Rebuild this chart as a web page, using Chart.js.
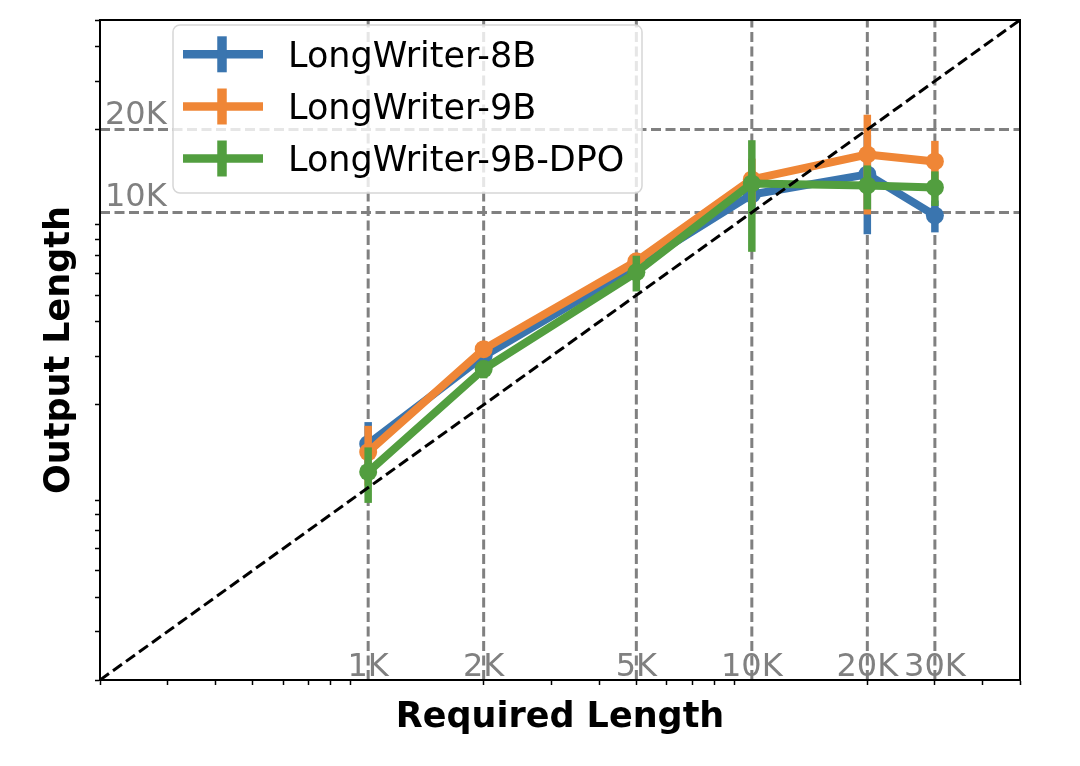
<!DOCTYPE html>
<html>
<head>
<meta charset="utf-8">
<script src="https://cdn.jsdelivr.net/npm/chart.js@4.4.0/dist/chart.umd.min.js"></script>
<style>
  html, body { margin: 0; padding: 0; background: #ffffff; }
</style>
</head>
<body>
<canvas id="myChart" width="1080" height="766"></canvas>
<script>
// required length (x) for every series
const required_len = [1000, 2000, 5000, 10000, 20000, 30000];

// mean output length and error (std)
const out_8b  = [1440, 3005, 6370, 11620, 13740, 9750];
const err_8b  = [290, 200, 400, 1500, 5420, 1290];
const out_9b  = [1347, 3185, 6640, 13180, 16230, 15310];
const err_9b  = [330, 190, 400, 2500, 6400, 2880];
const out_dpo = [1140, 2695, 6060, 12740, 12530, 12320];
const err_dpo = [260, 200, 900, 5550, 2280, 1770];

const series_names  = ['LongWriter-8B', 'LongWriter-9B', 'LongWriter-9B-DPO'];
const series_colors = ['#3a75af', '#ef8636', '#529e3f'];

// labelled dashed grid lines
const x_tick_vals   = [1000, 2000, 5000, 10000, 20000, 30000];
const x_tick_labels = ['1K', '2K', '5K', '10K', '20K', '30K'];
const y_tick_vals   = [10000, 20000];
const y_tick_labels = ['10K', '20K'];

const axis_min = 200;
const axis_max = 50000;
const diag = [axis_min, axis_max];

const FONT = "'DejaVu Sans', sans-serif";

// small tick marks: 2..9 x 10^n only (no decade ticks in the original)
function minor_ticks() {
    let out = [];
    for (let p = 100; p <= 10000; p *= 10) {
        for (let m = 2; m <= 9; m++) {
            let v = m * p;
            if (v >= axis_min && v <= axis_max) out.push({value: v});
        }
    }
    return out;
}

function to_points(xs, ys) {
    return xs.map((x, i) => ({x: x, y: ys[i]}));
}

const err_lists = [err_8b, err_9b, err_dpo];
const out_lists = [out_8b, out_9b, out_dpo];

let datasets = [{
    label: 'diag',
    data: to_points(diag, diag),
    borderColor: '#000000',
    borderWidth: 3,
    borderDash: [11, 5],
    pointRadius: 0,
    order: 0
}];
for (let i = 0; i < 3; i++) {
    datasets.push({
        label: series_names[i],
        data: to_points(required_len, out_lists[i]),
        yerr: err_lists[i],
        borderColor: series_colors[i],
        backgroundColor: series_colors[i],
        borderWidth: 8,
        borderJoinStyle: 'round',
        pointRadius: 9,
        pointBorderWidth: 0,
        pointBackgroundColor: series_colors[i],
        order: 3 - i
    });
}

const extras = {
    id: 'extras',
    beforeDatasetsDraw(chart) {
        const ctx = chart.ctx, a = chart.chartArea;
        const xs = chart.scales.x, ys = chart.scales.y;
        ctx.save();
        ctx.fillStyle = '#808080';
        ctx.font = '32px ' + FONT;
        ctx.textBaseline = 'alphabetic';
        ctx.textAlign = 'center';
        x_tick_vals.forEach((v, i) => {
            ctx.fillText(x_tick_labels[i], xs.getPixelForValue(v), a.bottom - 4);
        });
        ctx.textAlign = 'left';
        y_tick_vals.forEach((v, i) => {
            ctx.fillText(y_tick_labels[i], a.left + 5, ys.getPixelForValue(v) - 6);
        });
        ctx.strokeStyle = '#808080';
        ctx.lineWidth = 3;
        ctx.setLineDash([10, 4.5]);
        x_tick_vals.forEach(v => {
            const px = xs.getPixelForValue(v);
            ctx.beginPath();
            ctx.moveTo(px, a.bottom);
            ctx.lineTo(px, a.top);
            ctx.stroke();
        });
        y_tick_vals.forEach(v => {
            const py = ys.getPixelForValue(v);
            ctx.beginPath();
            ctx.moveTo(a.left, py);
            ctx.lineTo(a.right, py);
            ctx.stroke();
        });
        ctx.restore();
    },
    beforeDatasetDraw(chart, args) {
        const ds = chart.data.datasets[args.index];
        if (!ds.yerr) return;
        const ctx = chart.ctx;
        const xs = chart.scales.x, ys = chart.scales.y;
        ctx.save();
        ctx.strokeStyle = ds.borderColor;
        ctx.lineWidth = 7.5;
        ctx.lineCap = 'butt';
        ds.data.forEach((p, i) => {
            const px = xs.getPixelForValue(p.x);
            ctx.beginPath();
            ctx.moveTo(px, ys.getPixelForValue(p.y + ds.yerr[i]));
            ctx.lineTo(px, ys.getPixelForValue(p.y - ds.yerr[i]));
            ctx.stroke();
        });
        ctx.restore();
    },
    afterDatasetsDraw(chart) {
        const ctx = chart.ctx;
        // legend box
        const bx = 173, by = 25, bw = 469, bh = 168, r = 7;
        ctx.save();
        ctx.beginPath();
        ctx.roundRect(bx, by, bw, bh, r);
        ctx.fillStyle = 'rgba(255,255,255,0.8)';
        ctx.fill();
        ctx.strokeStyle = '#d6d6d6';
        ctx.lineWidth = 1.5;
        ctx.stroke();
        const rows = [54.3, 106.5, 158.5];
        ctx.font = '35px ' + FONT;
        ctx.textAlign = 'left';
        ctx.textBaseline = 'alphabetic';
        series_names.forEach((name, i) => {
            const cy = rows[i];
            ctx.strokeStyle = series_colors[i];
            ctx.lineWidth = 8.5;
            ctx.lineCap = 'butt';
            ctx.beginPath();
            ctx.moveTo(183, cy);
            ctx.lineTo(263, cy);
            ctx.stroke();
            ctx.lineWidth = 9.5;
            ctx.beginPath();
            ctx.moveTo(222, cy - 18);
            ctx.lineTo(222, cy + 18);
            ctx.stroke();
            ctx.fillStyle = '#000000';
            ctx.fillText(name, 288, cy + 12.3);
        });
        ctx.restore();
    },
    afterDraw(chart) {
        const ctx = chart.ctx, a = chart.chartArea;
        ctx.save();
        ctx.strokeStyle = '#000000';
        ctx.lineWidth = 2;
        ctx.strokeRect(a.left, a.top, a.right - a.left, a.bottom - a.top);
        ctx.restore();
    }
};

function make_axis(title, pad) {
    return {
        type: 'logarithmic',
        min: axis_min,
        max: axis_max,
        afterBuildTicks: (scale) => { scale.ticks = minor_ticks(); },
        ticks: { display: false },
        grid: {
            drawOnChartArea: false,
            drawTicks: true,
            tickLength: 5,
            tickWidth: 1.5,
            tickColor: '#000000'
        },
        border: { display: true, color: '#000000', width: 2 },
        title: {
            display: true,
            text: title,
            color: '#000000',
            font: { family: FONT, size: 35, weight: 'bold', lineHeight: 1.2 },
            padding: pad
        }
    };
}

const ctx = document.getElementById('myChart').getContext('2d');
const myChart = new Chart(ctx, {
    type: 'line',
    data: { datasets: datasets },
    options: {
        responsive: false,
        animation: false,
        layout: { padding: { left: 39, right: 60, top: 20, bottom: 27 } },
        plugins: { legend: { display: false }, tooltip: { enabled: false } },
        scales: {
            x: make_axis('Required Length', { top: 12, bottom: 0 }),
            y: make_axis('Output Length', { top: 0, bottom: 14 })
        }
    },
    plugins: [extras]
});
</script>
</body>
</html>
